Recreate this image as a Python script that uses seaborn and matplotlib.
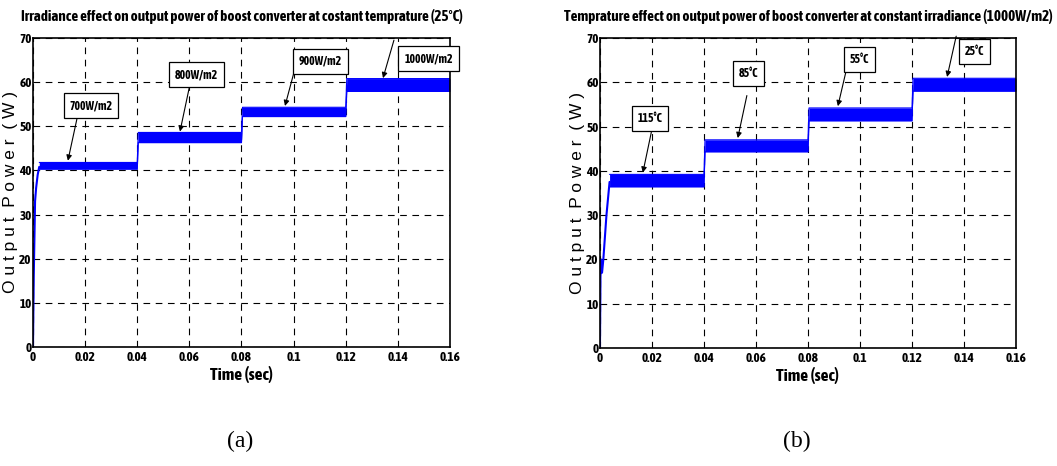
import matplotlib
matplotlib.use("Agg")
import matplotlib.pyplot as plt
import numpy as np
import seaborn as sns

# step times and band limits (W)
t_edges = [0.0, 0.04, 0.08, 0.12, 0.16]

a_low = [40.3, 46.3, 52.2, 57.9]
a_high = [41.8, 48.6, 54.3, 60.8]
a_start_t = [0.0, 0.0003, 0.0008, 0.0012, 0.0018, 0.0024]
a_start_p = [0.0, 16.0, 33.0, 36.0, 39.0, 40.8]
a_labels = ["700W/m2", "800W/m2", "900W/m2", "1000W/m2"]

b_low = [36.4, 44.3, 51.3, 58.0]
b_high = [39.2, 47.0, 54.2, 60.9]
b_start_t = [0.0, 0.0002, 0.0004, 0.0008, 0.0013, 0.0025, 0.0037]
b_start_p = [0.0, 16.0, 20.0, 17.0, 20.0, 30.0, 37.5]
b_labels = ["115°C", "85°C", "55°C", "25°C"]

# annotation boxes: (box x, box y) and arrow tip / tail (x, y)
a_box = [(0.0140, 53.2), (0.0545, 60.2), (0.1020, 63.2), (0.1425, 63.8)]
a_tip = [(0.0134, 42.2), (0.0564, 48.8), (0.0967, 54.6), (0.1343, 60.9)]
a_tail = [(0.0172, 52.6), (0.0602, 59.4), (0.1005, 63.0), (0.1385, 69.5)]

b_box = [(0.0145, 50.4), (0.0535, 60.6), (0.0960, 63.6), (0.1402, 65.4)]
b_tip = [(0.0165, 39.6), (0.0530, 47.4), (0.0915, 54.6), (0.1335, 61.2)]
b_tail = [(0.0200, 49.4), (0.0565, 57.0), (0.0950, 63.4), (0.1370, 70.4)]

NARROW = ["Liberation Sans Narrow", "Asap Condensed", "Barlow Semi Condensed", "DejaVu Sans"]
SANS = ["Liberation Sans", "DejaVu Sans"]

sns.set_style("white")
plt.rcParams["font.family"] = NARROW
plt.rcParams["text.color"] = "black"
plt.rcParams["axes.labelcolor"] = "black"
plt.rcParams["xtick.color"] = "black"
plt.rcParams["ytick.color"] = "black"

fig = plt.figure(figsize=(10.57, 4.66), dpi=100)
ax_a = fig.add_axes([0.0312, 0.2554, 0.3945, 0.6631])
ax_b = fig.add_axes([0.5676, 0.2532, 0.3936, 0.6653])


def band_xy(start_t, low, high):
    xs, lo, hi = [], [], []
    for i in range(4):
        x0 = start_t if i == 0 else t_edges[i] + 0.0004
        xs += [x0, t_edges[i + 1]]
        lo += [low[i], low[i]]
        hi += [high[i], high[i]]
    return np.array(xs), np.array(lo), np.array(hi)


def draw(ax, st, sp, low, high, labels, boxes, tips, tails, title):
    xs, lo, hi = band_xy(st[-1], low, high)
    ax.fill_between(xs, lo, hi, color="#0000ff", lw=0)
    sns.lineplot(x=xs, y=lo, ax=ax, color="#0000ff", lw=0.8, sort=False)
    sns.lineplot(x=xs, y=hi, ax=ax, color="#0000ff", lw=0.8, sort=False)
    sns.lineplot(x=st, y=sp, ax=ax, color="#0000ff", lw=1.5, sort=False)

    ax.set_xlim(0, 0.16)
    ax.set_ylim(0, 70)
    ax.set_xticks(np.arange(0, 0.161, 0.02))
    ax.set_xticklabels(["0", "0.02", "0.04", "0.06", "0.08", "0.1", "0.12", "0.14", "0.16"])
    ax.set_yticks(range(0, 71, 10))
    ax.grid(True, color="black", ls=(0, (6, 5)), lw=0.8)
    for s in ax.spines.values():
        s.set_color("black")
        s.set_linewidth(1.2)
    ax.tick_params(direction="in", length=4, width=0.8, pad=3, labelsize=9.5)
    ax.tick_params(axis="y", pad=1)
    for lab in ax.get_xticklabels() + ax.get_yticklabels():
        lab.set_fontweight("bold")

    ax.set_xlabel("Time (sec)", fontsize=12.5, fontweight="bold", labelpad=1)
    ax.set_ylabel("O u t p u t  P o w e r  ( W )", fontsize=12.5, family=SANS)
    ax.yaxis.set_label_coords(-0.037, 0.5)
    ax.set_title(title, fontsize=10.8, fontweight="bold", pad=12)

    for lab, bx, tip, tail in zip(labels, boxes, tips, tails):
        ax.text(bx[0], bx[1], lab, fontsize=8.5, fontweight="bold",
                va="bottom", ha="left", zorder=6,
                bbox=dict(boxstyle="square,pad=0.5", fc="white", ec="black", lw=0.9))
        ax.annotate("", xy=tip, xytext=tail, zorder=5, annotation_clip=False,
                    arrowprops=dict(arrowstyle="-|>", color="black", lw=0.8,
                                    mutation_scale=8, shrinkA=0, shrinkB=0))


draw(ax_a, a_start_t, a_start_p, a_low, a_high, a_labels, a_box, a_tip, a_tail,
     "Irradiance effect on output power of boost converter at costant temprature (25°C)")
draw(ax_b, b_start_t, b_start_p, b_low, b_high, b_labels, b_box, b_tip, b_tail,
     "Temprature effect on output power of boost converter at constant irradiance (1000W/m2)")

SERIF = ["Liberation Serif", "DejaVu Serif"]
fig.text(0.227, 0.04, "(a)", fontsize=17, family=SERIF, ha="center")
fig.text(0.754, 0.04, "(b)", fontsize=17, family=SERIF, ha="center")

fig.savefig("out.png", dpi=100)
